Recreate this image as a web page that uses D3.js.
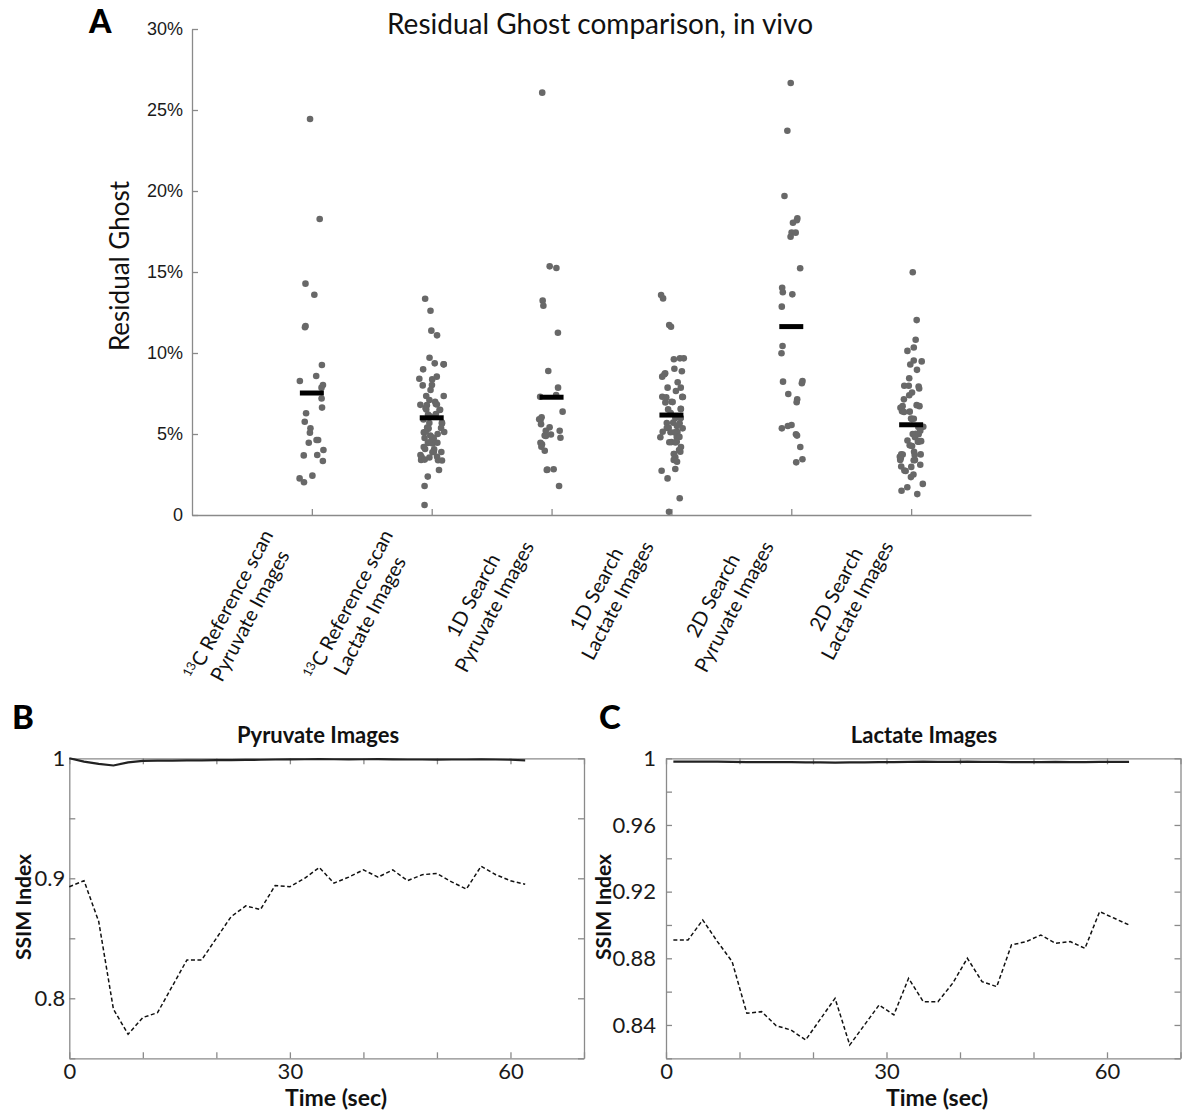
<!DOCTYPE html>
<html>
<head>
<meta charset="utf-8">
<script src="https://cdn.jsdelivr.net/npm/d3@7"></script>
<style>
  body { margin: 0; background: #fff; }
  svg { display: block; }
</style>
</head>
<body>
<svg id="fig" width="1182" height="1110"></svg>
<script>
// ---------------- Panel A: residual ghost per acquisition ----------------
const catIsotope = ["13", "13", "", "", "", ""];
const catLine1 = ["C Reference scan", "C Reference scan", "1D Search", "1D Search", "2D Search", "2D Search"];
const catLine2 = ["Pyruvate Images", "Lactate Images", "Pyruvate Images", "Lactate Images", "Pyruvate Images", "Lactate Images"];

// residual ghost, percent of signal
const refPyruvate = [24.44, 18.27, 14.28, 13.6, 11.67, 11.59, 9.26, 8.58, 8.27, 8.02, 7.86, 7.19, 6.63, 6.28,
  5.76, 5.35, 5.08, 4.63, 4.46, 4.63, 4.01, 3.68, 3.7, 3.33, 2.43, 2.26, 2.02];
const refLactate = [13.35, 12.61, 11.38, 11.09, 9.71, 9.30, 9.30, 9.36, 8.99, 8.54, 8.37, 8.41, 8.0, 8.02, 7.72,
  7.35, 7.35, 7.1, 6.99, 6.8, 6.85, 6.78, 6.82, 6.6, 6.5, 6.48, 6.52, 6.23, 6.2, 6.1, 5.9, 5.68, 5.65, 5.7,
  5.37, 5.35, 5.4, 5.33, 5.12, 5.1, 5.14, 5.0, 4.9, 4.75, 4.72, 4.8, 4.45, 4.42, 4.48, 4.46, 4.2, 4.07, 4.05,
  3.89, 3.9, 3.87, 3.7, 3.58, 3.6, 3.55, 3.4, 3.38, 3.42, 3.36, 2.78, 2.37, 1.79, 0.62];
const search1DPyruvate = [26.07, 15.35, 15.25, 13.23, 12.92, 11.25, 8.89, 7.86, 7.41, 7.30, 6.38, 6.03, 5.86,
  5.91, 5.6, 5.41, 5.2, 4.97, 5.2, 4.9, 4.88, 4.77, 4.46, 4.36, 4.22, 3.97, 2.8, 2.78, 2.82, 1.79];
const search1DLactate = [13.37, 13.58, 11.73, 11.62, 9.61, 9.67, 9.67, 8.87, 9.03, 8.75, 8.69, 8.54, 8.19,
  7.86, 7.86, 7.65, 7.28, 7.3, 7.26, 7.29, 6.97, 6.99, 6.95, 6.54, 6.55, 6.52, 6.3, 5.99, 6.0, 5.98, 5.68,
  5.7, 5.66, 5.5, 5.37, 5.38, 5.35, 5.12, 5.1, 5.14, 5.11, 4.81, 4.8, 4.82, 4.5, 4.48, 4.52, 4.49, 4.2,
  4.01, 3.9, 3.77, 3.77, 3.56, 3.4, 3.29, 2.84, 2.73, 2.26, 1.03, 0.2];
const search2DPyruvate = [26.67, 23.72, 19.69, 18.31, 18.19, 18.04, 17.43, 17.43, 17.18, 15.23, 13.75, 14.03,
  13.62, 12.86, 10.43, 9.98, 8.27, 8.13, 8.23, 7.47, 7.14, 6.96, 5.49, 5.56, 5.35, 4.98, 4.9, 4.2, 3.25, 3.44];
const search2DLactate = [14.98, 12.03, 10.82, 10.13, 10.34, 9.48, 9.54, 9.29, 8.96, 8.44, 7.93, 7.98, 7.98,
  7.81, 7.56, 7.39, 7.14, 6.78, 6.72, 6.62, 6.72, 6.38, 6.4, 6.36, 5.94, 5.92, 5.96, 5.43, 5.45, 5.41, 5.2,
  5.0, 5.02, 4.98, 4.8, 4.6, 4.54, 4.55, 4.52, 4.56, 4.3, 4.26, 3.9, 3.73, 3.75, 3.71, 3.74, 3.6, 3.5, 3.39,
  3.4, 3.38, 3.1, 2.97, 2.99, 2.72, 2.74, 2.5, 2.34, 1.92, 1.71, 1.5, 1.29];
const groupMeans = [7.53, 6.0, 7.27, 6.17, 11.63, 5.57];

const yTicksA = [0, 5, 10, 15, 20, 25, 30];
const yTickLabelsA = ["0", "5%", "10%", "15%", "20%", "25%", "30%"];

// ---------------- Panels B and C: SSIM over time ----------------
const timePyr = [0, 2, 4, 6, 8, 10, 12, 14, 16, 18, 20, 22, 24, 26, 28, 30, 32, 34, 36, 38, 40, 42, 44, 46,
  48, 50, 52, 54, 56, 58, 60, 62];
const ssimPyrSolid = [1.000, 0.9972, 0.9953, 0.9940, 0.9966, 0.9978, 0.998, 0.998, 0.9982, 0.9983, 0.9985,
  0.9985, 0.9987, 0.9988, 0.999, 0.9991, 0.9992, 0.9993, 0.9992, 0.9991, 0.9992, 0.9993, 0.9991, 0.999,
  0.999, 0.9989, 0.999, 0.999, 0.9991, 0.999, 0.9988, 0.9982];
const ssimPyrDashed = [0.893, 0.898, 0.864, 0.791, 0.770, 0.784, 0.788, 0.810, 0.832, 0.832, 0.850, 0.868,
  0.877, 0.874, 0.894, 0.893, 0.900, 0.909, 0.896, 0.901, 0.907, 0.901, 0.907, 0.898, 0.903, 0.904, 0.897,
  0.891, 0.910, 0.903, 0.898, 0.895];

const timeLac = [1, 3, 5, 7, 9, 11, 13, 15, 17, 19, 21, 23, 25, 27, 29, 31, 33, 35, 37, 39, 41, 43, 45, 47,
  49, 51, 53, 55, 57, 59, 61, 63];
const ssimLacSolid = [0.998, 0.998, 0.998, 0.998, 0.9978, 0.9977, 0.9977, 0.9977, 0.9977, 0.9976, 0.9975,
  0.9974, 0.9975, 0.9976, 0.9977, 0.9977, 0.9978, 0.998, 0.9979, 0.9978, 0.998, 0.9979, 0.9978, 0.9977,
  0.9977, 0.9977, 0.9978, 0.9977, 0.9977, 0.9978, 0.9978, 0.9978];
const ssimLacDashed = [0.891, 0.891, 0.903, 0.890, 0.878, 0.847, 0.848, 0.8395, 0.837, 0.831, 0.8435, 0.856,
  0.828, 0.840, 0.852, 0.846, 0.868, 0.854, 0.854, 0.865, 0.880, 0.866, 0.863, 0.888, 0.890, 0.894, 0.889,
  0.890, 0.886, 0.908, 0.904, 0.900];

const timeTicks = [0, 10, 20, 30, 40, 50, 60, 70];
const timeTickLabels = [0, 30, 60];
const ssimTicksPyr = [0.75, 0.8, 0.85, 0.9, 0.95, 1.0];
const ssimTickLabelsPyr = [0.8, 0.9, 1.0];
const ssimTicksLac = [0.82, 0.84, 0.86, 0.88, 0.9, 0.92, 0.94, 0.96, 0.98, 1.0];
const ssimTickLabelsLac = [0.84, 0.88, 0.92, 0.96, 1.0];

// ---------------- drawing ----------------
const svg = d3.select("#fig");
const SANS = "Lato, 'Open Sans', sans-serif";
const ARIAL = "'Liberation Sans', Arial, sans-serif";
const AXIS_GREY = "#8a8a8a";

function styleAxis(g, fontFamily, fontSize) {
  g.select(".domain").attr("stroke", AXIS_GREY).attr("stroke-width", 1.3);
  g.selectAll(".tick line").attr("stroke", AXIS_GREY).attr("stroke-width", 1.3);
  g.selectAll(".tick text").attr("fill", "#1a1a1a")
    .style("font-family", fontFamily).style("font-size", fontSize + "px");
}

// ---- Panel A ----
const groups = [refPyruvate, refLactate, search1DPyruvate, search1DLactate, search2DPyruvate, search2DLactate];
const xA = d3.scaleLinear().domain([0, 7]).range([192, 1031]);
const yA = d3.scaleLinear().domain([0, 30]).range([515, 29]);
const gA = svg.append("g");

gA.append("g").attr("transform", `translate(${xA(0)},0)`)
  .call(d3.axisLeft(yA).tickValues(yTicksA).tickFormat((d, i) => yTickLabelsA[i])
    .tickSizeInner(-6).tickSizeOuter(0).tickPadding(9))
  .call(g => styleAxis(g, ARIAL, 18));

gA.append("g").attr("transform", `translate(0,${yA(0)})`)
  .call(d3.axisBottom(xA).tickValues(d3.range(1, groups.length + 1)).tickFormat("")
    .tickSizeInner(-6).tickSizeOuter(0))
  .call(g => styleAxis(g, ARIAL, 18));

// jittered points, deterministic spread around each category
const jitter = d3.randomUniform.source(d3.randomLcg(0.4217))(-0.105, 0.105);
groups.forEach((vals, i) => {
  gA.append("g").selectAll("circle").data(vals).join("circle")
    .attr("cx", () => xA(i + 1 + jitter()))
    .attr("cy", d => yA(d))
    .attr("r", 3.3)
    .attr("fill", "#686868");
});
gA.append("g").selectAll("line").data(groupMeans).join("line")
  .attr("x1", (d, i) => xA(i + 1 - 0.1))
  .attr("x2", (d, i) => xA(i + 1 + 0.1))
  .attr("y1", d => yA(d)).attr("y2", d => yA(d))
  .attr("stroke", "#000").attr("stroke-width", 5);

gA.append("text").attr("x", 600).attr("y", 34).attr("text-anchor", "middle")
  .style("font-family", SANS).style("font-size", "28px").attr("fill", "#111")
  .text("Residual Ghost comparison, in vivo");
gA.append("text").attr("x", 89).attr("y", 33)
  .style("font-family", SANS).style("font-size", "32px").style("font-weight", 900).attr("fill", "#000")
  .text("A");
gA.append("text").attr("transform", "translate(129,266) rotate(-90)").attr("text-anchor", "middle")
  .style("font-family", SANS).style("font-size", "26px").attr("fill", "#111")
  .text("Residual Ghost");

// rotated two-line category labels, lines centred on each other
catLine1.forEach((l1, i) => {
  const g = gA.append("g")
    .attr("transform", `translate(${xA(i + 1) - 32},538) rotate(-62)`)
    .style("font-family", SANS).style("font-size", "20px").attr("fill", "#111");
  const t1 = g.append("text").attr("y", -7).attr("text-anchor", "middle");
  if (catIsotope[i]) {
    t1.append("tspan").attr("dy", -7).style("font-size", "12.5px").text(catIsotope[i]);
    t1.append("tspan").attr("dy", 7).text(l1);
  } else {
    t1.text(l1);
  }
  const t2 = g.append("text").attr("y", 17).attr("text-anchor", "middle").text(catLine2[i]);
  const w = Math.max(t1.node().getComputedTextLength(), t2.node().getComputedTextLength());
  t1.attr("x", -w / 2);
  t2.attr("x", -w / 2);
});

// ---- Panels B and C ----
function ssimPanel(cfg) {
  const x = d3.scaleLinear().domain([0, 70]).range([cfg.left, cfg.right]);
  const y = d3.scaleLinear().domain(cfg.yDomain).range([1058.3, 758.3]);
  const g = svg.append("g");
  const fmt = d => String(+d.toFixed(2));
  const has = (arr, d) => arr.some(v => Math.abs(v - d) < 1e-9);

  g.append("g").attr("transform", `translate(0,${y.range()[0]})`)
    .call(d3.axisBottom(x).tickValues(timeTicks).tickFormat(d => has(timeTickLabels, d) ? fmt(d) : "")
      .tickSizeInner(-6).tickSizeOuter(0).tickPadding(5))
    .call(a => styleAxis(a, SANS, 22));
  g.append("g").attr("transform", `translate(0,${y.range()[1]})`)
    .call(d3.axisTop(x).tickValues(timeTicks).tickFormat("").tickSizeInner(-6).tickSizeOuter(0))
    .call(a => styleAxis(a, SANS, 22));
  g.append("g").attr("transform", `translate(${cfg.left},0)`)
    .call(d3.axisLeft(y).tickValues(cfg.yTicks).tickFormat(d => has(cfg.yLabels, d) ? fmt(d) : "")
      .tickSizeInner(-6).tickSizeOuter(0).tickPadding(cfg.pad))
    .call(a => styleAxis(a, SANS, 22));
  g.append("g").attr("transform", `translate(${cfg.right},0)`)
    .call(d3.axisRight(y).tickValues(cfg.yTicks).tickFormat("").tickSizeInner(-6).tickSizeOuter(0))
    .call(a => styleAxis(a, SANS, 22));

  const line = d3.line().x(d => x(d[0])).y(d => y(d[1]));
  g.append("path").datum(d3.zip(cfg.time, cfg.dashed)).attr("d", line)
    .attr("fill", "none").attr("stroke", "#111").attr("stroke-width", 1.5)
    .attr("stroke-dasharray", "4,2.5");
  g.append("path").datum(d3.zip(cfg.time, cfg.solid)).attr("d", line)
    .attr("fill", "none").attr("stroke", "#222").attr("stroke-width", 2.2);

  g.append("text").attr("x", cfg.letterX).attr("y", 729)
    .style("font-family", SANS).style("font-size", "33px").style("font-weight", 900).attr("fill", "#000")
    .text(cfg.letter);
  g.append("text").attr("x", cfg.titleX).attr("y", 743).attr("text-anchor", "middle")
    .style("font-family", SANS).style("font-size", "22px").style("font-weight", 700).attr("fill", "#111")
    .text(cfg.title);
  g.append("text").attr("x", cfg.xLabelX).attr("y", 1106).attr("text-anchor", "middle")
    .style("font-family", SANS).style("font-size", "23px").style("font-weight", 700).attr("fill", "#111")
    .text("Time (sec)");
  g.append("text").attr("transform", `translate(${cfg.yLabelX},907) rotate(-90)`)
    .attr("text-anchor", "middle").attr("dominant-baseline", "central")
    .style("font-family", SANS).style("font-size", "21px").style("font-weight", 700).attr("fill", "#111")
    .text("SSIM Index");
}

ssimPanel({
  left: 69.3, right: 584, yDomain: [0.75, 1.0], yTicks: ssimTicksPyr, yLabels: ssimTickLabelsPyr, pad: 4,
  time: timePyr, solid: ssimPyrSolid, dashed: ssimPyrDashed,
  letter: "B", letterX: 12, title: "Pyruvate Images", titleX: 318, xLabelX: 336, yLabelX: 22
});
ssimPanel({
  left: 666, right: 1180.5, yDomain: [0.82, 1.0], yTicks: ssimTicksLac, yLabels: ssimTickLabelsLac, pad: 10,
  time: timeLac, solid: ssimLacSolid, dashed: ssimLacDashed,
  letter: "C", letterX: 599, title: "Lactate Images", titleX: 924, xLabelX: 937, yLabelX: 602
});
</script>
</body>
</html>
